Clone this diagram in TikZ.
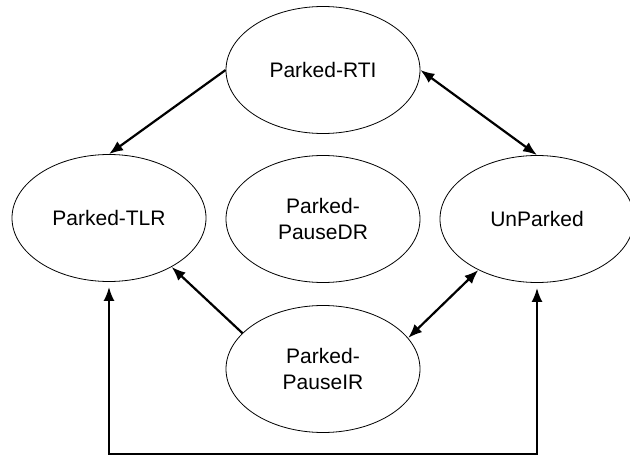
\documentclass[tikz,border=0pt]{standalone}
\usepackage{fontspec}
\setmainfont{Liberation Sans}
\usetikzlibrary{shapes.geometric,arrows.meta}
\begin{document}
\begin{tikzpicture}[x=1pt,y=-1pt,
  state/.style={ellipse,draw,line width=0.8pt,minimum width=194pt,minimum height=127pt,inner sep=0pt,align=center,font=\fontsize{21}{26}\selectfont},
  conn/.style={line width=2.2pt,-{Latex[length=14pt,width=11pt]}},
  conn2/.style={line width=2.2pt,{Latex[length=14pt,width=11pt]}-{Latex[length=14pt,width=11pt]}}]
\useasboundingbox (0,0) rectangle (630,458);
\node[state] (rti) at (323,70) {Parked-RTI};
\node[state] (tlr) at (109,218) {Parked-TLR};
\node[state] (pdr) at (323,219) {Parked-\\PauseDR};
\node[state] (unp) at (537,219) {UnParked};
\node[state] (pir) at (323,369) {Parked-\\PauseIR};
\coordinate (base) at (0,454);
\draw[conn] (rti.west) -- (tlr.north);
\draw[conn2] (rti.east) -- (unp.north);
\draw[conn] (pir.156) -- (tlr.-38);
\draw[conn2] (pir.20) -- (unp.221);
\draw[conn2, shorten <=5pt, shorten >=5pt] (tlr.south) -- (tlr.south |- base) -- (unp.south |- base) -- (unp.south);
\end{tikzpicture}
\end{document}
